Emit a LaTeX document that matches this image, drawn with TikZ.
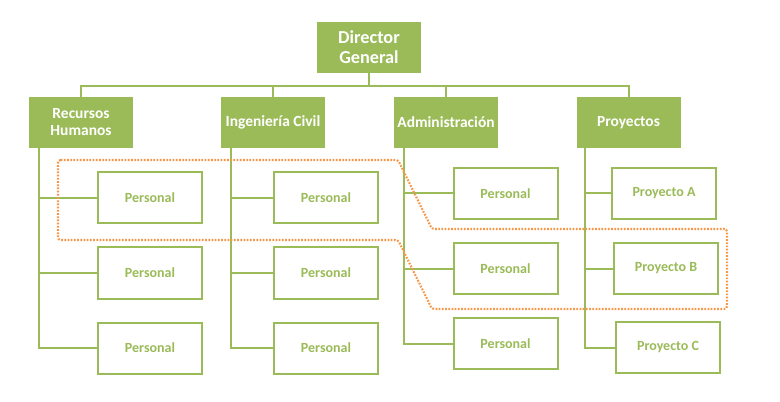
\documentclass[tikz,border=0pt]{standalone}
\usepackage{fontspec}
\setmainfont{Carlito}
\usetikzlibrary{positioning}
\definecolor{OrgGreen}{HTML}{9BBB59}
\definecolor{OrgOrange}{HTML}{F79646}
\tikzset{
  topbox/.style={fill=OrgGreen, draw=none, text=white, align=center,
    minimum width=78pt, minimum height=38.25pt, inner sep=2pt,
    font=\fontsize{13.7}{15}\selectfont\bfseries},
  depbox/.style={fill=OrgGreen, draw=none, text=white, align=center,
    minimum width=78pt, minimum height=38.25pt, inner sep=2pt,
    font=\fontsize{11.6}{12.75}\selectfont\bfseries},
  subbox/.style={draw=OrgGreen, line width=1.5pt, fill=white, text=OrgGreen,
    minimum width=78pt, minimum height=38.25pt, inner sep=2pt,
    font=\fontsize{10.5}{12}\selectfont\bfseries},
  link/.style={draw=OrgGreen, line width=1.5pt},
  grupo/.style={draw=OrgOrange, line width=1.6pt,
    dash pattern=on 1.3pt off 1.1pt, rounded corners=2pt},
}

\begin{document}
\begin{tikzpicture}[x=0.75pt, y=-0.75pt, node distance=16.5pt]
  \useasboundingbox (0,0) rectangle (780,402);
  % jerarquia
  \node[topbox] (dg) at (369,47.5) {Director\\General};
  \node[depbox] (rh) at (81,122.5) {Recursos\\Humanos};
  \node[depbox] (ic) at (273,122.5) {Ingeniería Civil};
  \node[depbox] (adm) at (446,122.5) {Administración};
  \node[depbox] (proy) at (628.5,122.5) {Proyectos};
  \draw[link] (dg.south) -- ++(0,13) -| (rh.north);
  \draw[link] (dg.south) -- ++(0,13) -| (ic.north);
  \draw[link] (dg.south) -- ++(0,13) -| (adm.north);
  \draw[link] (dg.south) -- ++(0,13) -| (proy.north);
  % Recursos Humanos
  \node[subbox] (rh1) at (150,198) {Personal};
  \node[subbox, below=of rh1] (rh2) {Personal};
  \node[subbox, below=of rh2] (rh3) {Personal};
  \draw[link] ([xshift=7.5pt]rh.south west) |- (rh1.west);
  \draw[link] ([xshift=7.5pt]rh.south west) |- (rh2.west);
  \draw[link] ([xshift=7.5pt]rh.south west) |- (rh3.west);
  % Ingenieria Civil
  \node[subbox] (ic1) at (326,198) {Personal};
  \node[subbox, below=of ic1] (ic2) {Personal};
  \node[subbox, below=of ic2] (ic3) {Personal};
  \draw[link] ([xshift=7.5pt]ic.south west) |- (ic1.west);
  \draw[link] ([xshift=7.5pt]ic.south west) |- (ic2.west);
  \draw[link] ([xshift=7.5pt]ic.south west) |- (ic3.west);
  % Administracion
  \node[subbox] (adm1) at (505.5,193.5) {Personal};
  \node[subbox, below=of adm1] (adm2) {Personal};
  \node[subbox, below=of adm2] (adm3) {Personal};
  \draw[link] ([xshift=7.5pt]adm.south west) |- (adm1.west);
  \draw[link] ([xshift=7.5pt]adm.south west) |- (adm2.west);
  \draw[link] ([xshift=7.5pt]adm.south west) |- (adm3.west);
  % Proyectos
  \node[subbox] (pa) at (664,193.5) {Proyecto A};
  \node[subbox, below=of pa, xshift=1.5pt] (pb) {Proyecto B};
  \node[subbox, below=19.5pt of pb, xshift=1.5pt] (pc) {Proyecto C};
  \draw[link] ([xshift=6.75pt]proy.south west) |- (pa.west);
  \draw[link] ([xshift=6.75pt]proy.south west) |- (pb.west);
  \draw[link] ([xshift=6.75pt]proy.south west) |- (pc.west);
  % grupo marcado
  \draw[grupo] (58,160) -- (398,160) -- (432,229) -- (727,229)
    -- (727,309) -- (432,309) -- (398,240) -- (58,240) -- cycle;
\end{tikzpicture}
\end{document}
